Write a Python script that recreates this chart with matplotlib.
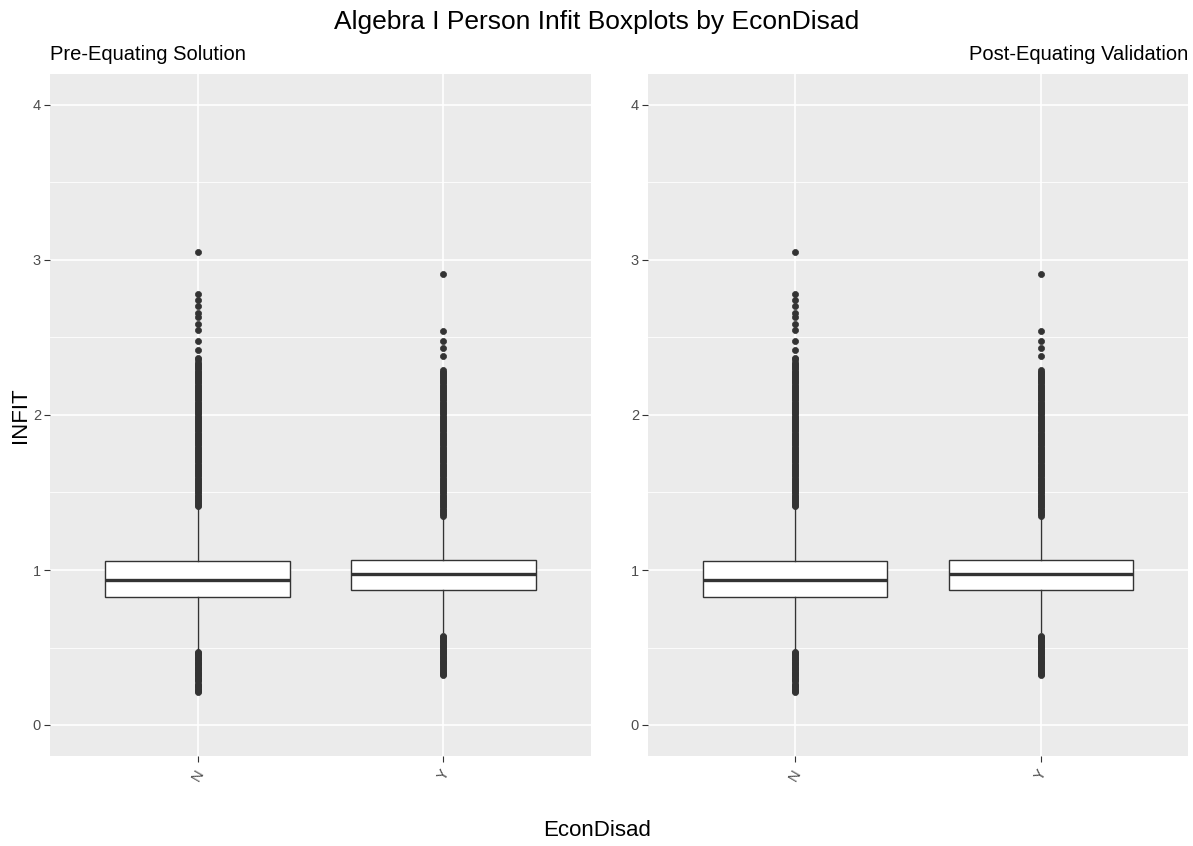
import matplotlib
matplotlib.use("Agg")
import matplotlib.pyplot as plt
from matplotlib.ticker import MultipleLocator

plt.rcParams["font.family"] = ["Liberation Sans", "DejaVu Sans"]

# ---- data -------------------------------------------------------------
categories = ["N", "Y"]
panel_titles = ["Pre-Equating Solution", "Post-Equating Validation"]

# five-number summaries (lower whisker, Q1, median, Q3, upper whisker)
whislo = [0.49, 0.60]
q1 = [0.826, 0.871]
median = [0.935, 0.974]
q3 = [1.058, 1.065]
whishi = [1.40, 1.33]

# outliers, group N
outliers_n = [
    0.21, 0.218, 0.226, 0.234, 0.242, 0.25, 0.258, 0.266, 0.281, 0.289,
    0.297, 0.305, 0.313, 0.321, 0.329, 0.337, 0.345, 0.353, 0.361, 0.369,
    0.377, 0.385, 0.393, 0.401, 0.409, 0.417, 0.425, 0.433, 0.441, 0.449,
    0.457, 0.465, 0.47,
    1.41, 1.42, 1.43, 1.44, 1.45, 1.46, 1.47, 1.48, 1.49, 1.50,
    1.51, 1.52, 1.53, 1.54, 1.55, 1.56, 1.57, 1.58, 1.59, 1.60,
    1.61, 1.62, 1.63, 1.64, 1.65, 1.66, 1.67, 1.68, 1.69, 1.70,
    1.71, 1.72, 1.73, 1.74, 1.75, 1.76, 1.77, 1.78, 1.79, 1.80,
    1.81, 1.82, 1.83, 1.84, 1.85, 1.86, 1.87, 1.88, 1.89, 1.90,
    1.91, 1.92, 1.93, 1.94, 1.95, 1.96, 1.97, 1.98, 1.99, 2.00,
    2.01, 2.02, 2.03, 2.04, 2.05, 2.06, 2.07, 2.08, 2.09, 2.10,
    2.11, 2.12, 2.13, 2.14, 2.15, 2.16, 2.17, 2.18, 2.19, 2.20,
    2.21, 2.22, 2.23, 2.24, 2.25, 2.26, 2.27, 2.28, 2.29, 2.30,
    2.31, 2.32, 2.33, 2.345, 2.36, 2.37, 2.42, 2.48, 2.55, 2.59,
    2.63, 2.66, 2.70, 2.74, 2.78, 3.05,
]

# outliers, group Y
outliers_y = [
    0.32, 0.328, 0.336, 0.344, 0.352, 0.36, 0.375, 0.383, 0.391, 0.399,
    0.407, 0.415, 0.423, 0.431, 0.439, 0.447, 0.455, 0.463, 0.471, 0.479,
    0.487, 0.495, 0.503, 0.511, 0.519, 0.527, 0.535, 0.543, 0.551, 0.559,
    0.567, 0.575,
    1.35, 1.36, 1.37, 1.38, 1.39, 1.40, 1.41, 1.42, 1.43, 1.44,
    1.45, 1.46, 1.47, 1.48, 1.49, 1.50, 1.51, 1.52, 1.53, 1.54,
    1.55, 1.56, 1.57, 1.58, 1.59, 1.60, 1.61, 1.62, 1.63, 1.64,
    1.65, 1.66, 1.67, 1.68, 1.69, 1.70, 1.71, 1.72, 1.73, 1.74,
    1.75, 1.76, 1.77, 1.78, 1.79, 1.80, 1.81, 1.82, 1.83, 1.84,
    1.85, 1.86, 1.87, 1.88, 1.89, 1.90, 1.91, 1.92, 1.93, 1.94,
    1.95, 1.96, 1.97, 1.98, 1.99, 2.00, 2.01, 2.02, 2.03, 2.04,
    2.05, 2.06, 2.07, 2.08, 2.09, 2.10, 2.11, 2.12, 2.13, 2.14,
    2.15, 2.16, 2.17, 2.18, 2.19, 2.20, 2.21, 2.22, 2.23, 2.24,
    2.25, 2.26, 2.27, 2.28, 2.29, 2.38, 2.43, 2.48, 2.54, 2.91,
]
outliers = [outliers_n, outliers_y]

y_ticks = [0, 1, 2, 3, 4]

# ---- styling ----------------------------------------------------------
W, H = 1193, 846
dark = "#333333"
tick_grey = "#4D4D4D"
panel_bg = "#EBEBEB"

fig = plt.figure(figsize=(W / 100, H / 100), dpi=100)

panels = [(50, 591), (648, 1188)]
top_px, bot_px = 74, 756

stats = []
for i, cat in enumerate(categories):
    stats.append(dict(label=cat, whislo=whislo[i], q1=q1[i], med=median[i],
                      q3=q3[i], whishi=whishi[i], fliers=outliers[i]))

for p, (x0, x1) in enumerate(panels):
    ax = fig.add_axes([x0 / W, 1 - bot_px / H, (x1 - x0) / W,
                       (bot_px - top_px) / H])
    ax.set_facecolor(panel_bg)
    for s in ax.spines.values():
        s.set_visible(False)

    ax.bxp(stats, positions=[1, 2], widths=0.75, patch_artist=True,
           showfliers=True, showcaps=False,
           boxprops=dict(facecolor="white", edgecolor=dark, linewidth=1.0),
           medianprops=dict(color=dark, linewidth=2.4, solid_capstyle="butt"),
           whiskerprops=dict(color=dark, linewidth=1.0),
           flierprops=dict(marker="o", markersize=4.4, markerfacecolor=dark,
                           markeredgecolor=dark, markeredgewidth=0.5,
                           linestyle="none"),
           zorder=3)

    ax.set_xlim(0.4, 2.6)
    ax.set_ylim(-0.2, 4.2)
    ax.set_xticks([1, 2])
    ax.set_xticklabels(categories, rotation=60, ha="center", va="top")
    ax.set_yticks(y_ticks)
    ax.set_yticklabels([str(t) for t in y_ticks])
    ax.yaxis.set_minor_locator(MultipleLocator(0.5))

    ax.grid(which="major", color="white", linewidth=1.2, zorder=0)
    ax.grid(which="minor", axis="y", color="white", linewidth=0.6, zorder=0)
    ax.set_axisbelow(True)
    ax.tick_params(which="major", length=4, width=0.8, color=dark,
                   labelcolor=tick_grey, labelsize=10.5, pad=2.5)
    ax.tick_params(axis="x", which="major", pad=4)
    ax.tick_params(which="minor", length=0)

    if p == 0:
        fig.text(x0 / W, 1 - 55 / H, panel_titles[p], ha="left",
                 va="center", fontsize=14.5, color="black")
    else:
        fig.text(x1 / W, 1 - 55 / H, panel_titles[p], ha="right",
                 va="center", fontsize=14.5, color="black")

fig.text(0.5, 1 - 22 / H, "Algebra I Person Infit Boxplots by EconDisad",
         ha="center", va="center", fontsize=19, color="black")
fig.text(20 / W, 1 - 415 / H, "INFIT", rotation=90, ha="center",
         va="center", fontsize=16, color="black")
fig.text(597 / W, 1 - 830 / H, "EconDisad", ha="center", va="center",
         fontsize=16, color="black")

fig.savefig("out.png", dpi=100, facecolor="white")
